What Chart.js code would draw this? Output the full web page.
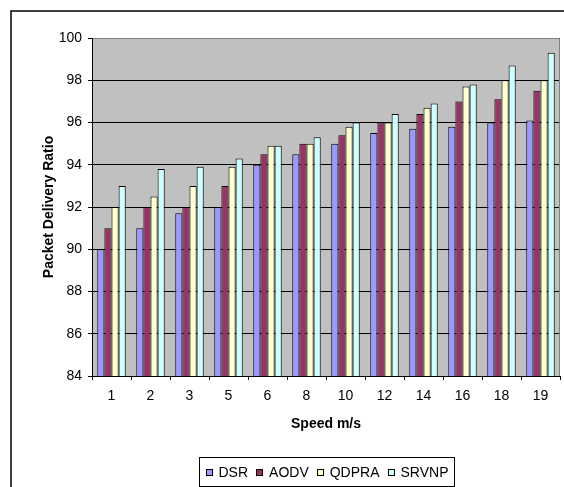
<!DOCTYPE html>
<html>
<head>
<meta charset="utf-8">
<script src="https://cdn.jsdelivr.net/npm/chart.js@4.4.1/dist/chart.umd.min.js"></script>
<style>
  html, body { margin: 0; padding: 0; background: #fff; }
  #wrap { position: relative; width: 564px; height: 487px; }
</style>
</head>
<body>
<div id="wrap"><canvas id="c" width="564" height="487"></canvas></div>
<script>
// Speeds (m/s) on the category axis
const speeds = ['1', '2', '3', '5', '6', '8', '10', '12', '14', '16', '18', '19'];

// Packet delivery ratio (%) per protocol
const dsr   = [90.0, 91.0, 91.7, 92.0, 94.0, 94.5, 95.0, 95.5, 95.7, 95.8, 96.0, 96.1];
const aodv  = [91.0, 92.0, 92.0, 93.0, 94.5, 95.0, 95.4, 96.0, 96.4, 97.0, 97.1, 97.5];
const qdpra = [92.0, 92.5, 93.0, 93.9, 94.9, 95.0, 95.8, 96.0, 96.7, 97.7, 98.0, 98.0];
const srvnp = [93.0, 93.8, 93.9, 94.3, 94.9, 95.3, 96.0, 96.4, 96.9, 97.8, 98.7, 99.3];

const protocolNames = ['DSR', 'AODV', 'QDPRA', 'SRVNP'];
const yTicks = { min: 84, max: 100, step: 2 };

const FONT = "'Liberation Sans', Arial, sans-serif";
const fills = ['#9999FF', '#993366', '#FFFFCC', '#CCFFFF'];

// White page with the outer frame and the grey plot background
const framePlugin = {
  id: 'frame',
  beforeDraw(chart) {
    const { ctx, chartArea: a } = chart;
    ctx.save();
    ctx.fillStyle = '#fff';
    ctx.fillRect(0, 0, chart.width, chart.height);
    ctx.strokeStyle = '#000';
    ctx.lineWidth = 1.5;
    ctx.beginPath();
    ctx.moveTo(11, chart.height);
    ctx.lineTo(11, 11);
    ctx.lineTo(chart.width, 11);
    ctx.stroke();
    ctx.fillStyle = '#C0C0C0';
    ctx.fillRect(a.left, a.top, a.right - a.left, a.bottom - a.top);
    ctx.restore();
  },
  afterDatasetsDraw(chart) {
    const { ctx, chartArea: a } = chart;
    ctx.save();
    ctx.strokeStyle = '#808080';
    ctx.lineWidth = 1;
    ctx.beginPath();
    ctx.moveTo(a.left + 1, Math.round(a.top) + 0.5);
    ctx.lineTo(Math.round(a.right) - 0.5, Math.round(a.top) + 0.5);
    ctx.lineTo(Math.round(a.right) - 0.5, a.bottom);
    ctx.stroke();
    ctx.restore();
  }
};

// Boxed legend below the axis title, centred under the plot
const boxLegendPlugin = {
  id: 'boxLegend',
  afterDraw(chart) {
    const { ctx, chartArea: a } = chart;
    const sets = chart.data.datasets;
    ctx.save();
    ctx.font = '14px ' + FONT;
    const sq = 7, gapSq = 6, gapItem = 8, padX = 6;
    const widths = sets.map(d => ctx.measureText(d.label).width);
    let total = padX * 2;
    widths.forEach((w, i) => { total += sq + gapSq + w + (i < sets.length - 1 ? gapItem : 0); });
    total = Math.round(total);
    const cx = (a.left + a.right) / 2;
    const left = Math.round(cx - total / 2) + 0.5;
    const top = 457.5, h = 29;
    ctx.fillStyle = '#fff';
    ctx.fillRect(left, top, total, h);
    ctx.strokeStyle = '#000';
    ctx.lineWidth = 1;
    ctx.strokeRect(left, top, total, h);
    const midY = top + h / 2;
    let x = left + padX;
    ctx.textBaseline = 'middle';
    ctx.textAlign = 'left';
    sets.forEach((d, i) => {
      const sy = Math.round(midY - sq / 2) + 0.5;
      ctx.fillStyle = d.backgroundColor;
      ctx.fillRect(Math.round(x) + 0.5, sy, sq - 1, sq - 1);
      ctx.strokeStyle = '#000';
      ctx.strokeRect(Math.round(x) + 0.5, sy, sq - 1, sq - 1);
      x += sq + gapSq;
      ctx.fillStyle = '#000';
      ctx.fillText(d.label, x, midY + 1);
      x += widths[i] + gapItem;
    });
    ctx.restore();
  }
};

const seriesValues = [dsr, aodv, qdpra, srvnp];

new Chart(document.getElementById('c'), {
  type: 'bar',
  data: {
    labels: speeds,
    datasets: seriesValues.map((vals, i) => ({
      label: protocolNames[i],
      data: vals,
      backgroundColor: fills[i],
      borderColor: '#000',
      borderWidth: 1,
      borderSkipped: 'bottom',
      categoryPercentage: 0.73,
      barPercentage: 1.0
    }))
  },
  options: {
    responsive: false,
    animation: false,
    devicePixelRatio: 1,
    layout: { padding: { top: 38, right: 4, left: 0, bottom: 54 } },
    plugins: {
      legend: { display: false },
      tooltip: { enabled: false }
    },
    scales: {
      x: {
        grid: { display: true, drawOnChartArea: false, drawTicks: true, tickLength: 4, color: '#000', offset: true },
        border: { display: true, color: '#000', width: 1 },
        ticks: { color: '#000', font: { family: FONT, size: 14 }, padding: 8, maxRotation: 0 },
        title: {
          display: true, text: 'Speed m/s', color: '#000',
          font: { family: FONT, size: 14, weight: 'bold' },
          padding: { top: 0, bottom: 0 }
        },
        afterFit(scale) { scale.height = 57; }
      },
      y: {
        min: yTicks.min,
        max: yTicks.max,
        grid: { color: '#000', lineWidth: 1, drawTicks: true, tickLength: 4 },
        border: { display: true, color: '#000', width: 1 },
        ticks: { stepSize: yTicks.step, color: '#000', font: { family: FONT, size: 14 }, padding: 6 },
        title: {
          display: true, text: 'Packet Delivery Ratio', color: '#000',
          font: { family: FONT, size: 14, weight: 'bold' },
          padding: { top: 41, bottom: 0 }
        },
        afterFit(scale) { scale.width = 92; }
      }
    }
  },
  plugins: [framePlugin, boxLegendPlugin]
});
</script>
</body>
</html>
